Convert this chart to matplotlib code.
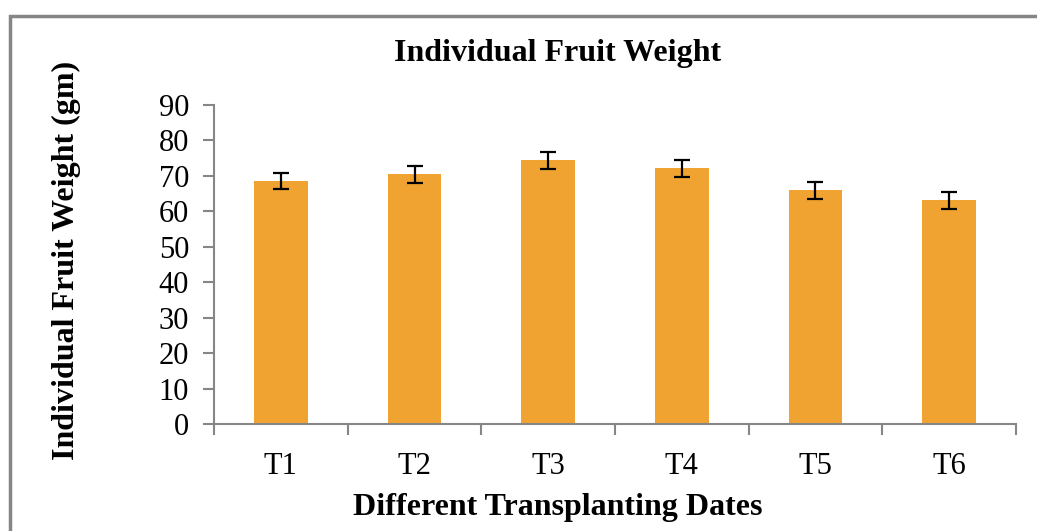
import numpy as np
import matplotlib.pyplot as plt
from matplotlib.patches import Rectangle

# Data
dates = ['T1', 'T2', 'T3', 'T4', 'T5', 'T6']
weight = [68.6, 70.4, 74.4, 72.1, 65.9, 63.1]
err = [2.35, 2.35, 2.35, 2.35, 2.35, 2.35]

plt.rcParams['font.family'] = ['Liberation Serif', 'DejaVu Serif']

W, H = 1037, 531
fig = plt.figure(figsize=(W / 100, H / 100), dpi=100)
ax = fig.add_axes([0.2064, 0.2015, 0.7733, 0.6008])

x = np.arange(len(dates))
ax.bar(x, weight, width=0.4, color='#F0A330', zorder=2)
ax.errorbar(x, weight, yerr=err, fmt='none', ecolor='black',
            elinewidth=1.6, capsize=6, capthick=1.6, zorder=3)

ax.set_xlim(-0.5, len(dates) - 0.5)
ax.set_ylim(0, 90)
ax.set_yticks(np.arange(0, 91, 10))
ax.set_xticks(x)
ax.set_xticklabels(dates)
ax.set_xticks(np.arange(-0.5, len(dates), 1), minor=True)

gray = '#868686'
for s in ['top', 'right']:
    ax.spines[s].set_visible(False)
for s in ['left', 'bottom']:
    ax.spines[s].set_color(gray)
    ax.spines[s].set_linewidth(1.5)

ax.tick_params(axis='y', direction='out', length=8, width=1.5, color=gray,
               labelsize=22, pad=10)
ax.tick_params(axis='x', which='major', length=0, labelsize=22, pad=20)
ax.tick_params(axis='x', which='minor', direction='out', length=8, width=1.5,
               color=gray)

# titles placed relative to the whole chart area
fig.text(558 / W, 1 - 53 / H, 'Individual Fruit Weight', fontsize=23,
         fontweight='bold', ha='center', va='center')
fig.text(558 / W, 1 - 507 / H, 'Different Transplanting Dates', fontsize=23,
         fontweight='bold', ha='center', va='center')
fig.text(66 / W, 1 - 260 / H, 'Individual Fruit Weight (gm)', fontsize=23,
         fontweight='bold', ha='center', va='center', rotation=90)

# outer chart border
fig.add_artist(Rectangle((10 / W, -0.05), 1.1, 1 - 16 / H + 0.05,
                         transform=fig.transFigure, fill=False,
                         edgecolor=gray, linewidth=2.5))

fig.savefig('out.png', dpi=100)
